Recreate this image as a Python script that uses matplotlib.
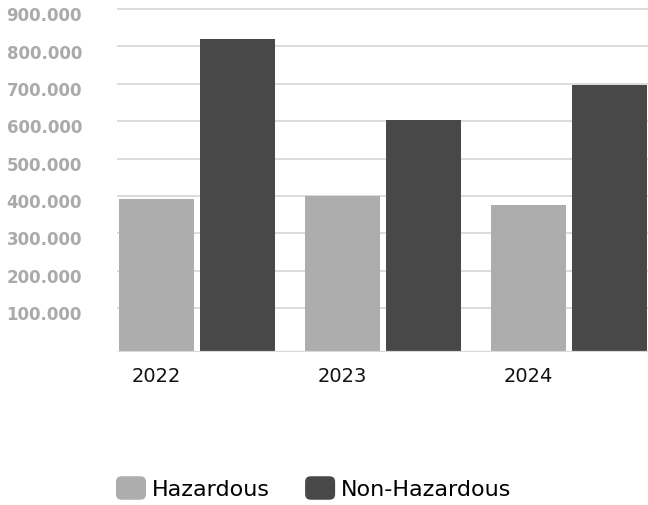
import numpy as np
import matplotlib
matplotlib.use("Agg")
import matplotlib.pyplot as plt
from matplotlib.patches import FancyBboxPatch, Patch
from matplotlib.legend_handler import HandlerPatch
import matplotlib.transforms as mtransforms

# waste volumes per year
years = ["2022", "2023", "2024"]
hazardous = [391000, 399000, 377000]
non_hazardous = [819000, 603000, 696000]
y_ticks = [100000, 200000, 300000, 400000, 500000, 600000, 700000, 800000, 900000]
y_labels = ["100.000", "200.000", "300.000", "400.000", "500.000",
            "600.000", "700.000", "800.000", "900.000"]

haz_color = "#acadac"
non_color = "#484848"
grid_color = "#d9d9d9"

plt.rcParams["font.family"] = ["DejaVu Sans"]


class RoundHandler(HandlerPatch):
    def create_artists(self, legend, orig_handle, xdescent, ydescent,
                       width, height, fontsize, trans):
        p = FancyBboxPatch((-xdescent, -ydescent), width, height,
                           boxstyle="round,pad=0,rounding_size=4",
                           facecolor=orig_handle.get_facecolor(),
                           edgecolor="none", transform=trans)
        return [p]


def main():
    fig = plt.figure(figsize=(6.48, 5.06), dpi=100)
    W, H = 648, 506
    ax = fig.add_axes([118 / W, 1 - 353 / H, (648 - 118) / W, (353 - 10) / H])

    base = -17500
    x = np.arange(len(years))
    off = 0.218
    width = 0.403
    ax.bar(x - off, np.array(hazardous) - base, bottom=base, width=width,
           color=haz_color, zorder=3)
    ax.bar(x + off, np.array(non_hazardous) - base, bottom=base, width=width,
           color=non_color, zorder=3)

    ax.set_xlim(-0.425, 2.425)
    ax.set_ylim(base, 900000)

    # horizontal grid
    for t in y_ticks:
        ax.axhline(t, color=grid_color, lw=1.3, zorder=1, clip_on=False)
    ax.axhline(base, color=grid_color, lw=1.6, zorder=4)

    for s in ax.spines.values():
        s.set_visible(False)

    ax.set_yticks(y_ticks)
    ax.set_yticklabels(y_labels, fontsize=12, fontweight="bold", color="#aaaaaa")
    ax.tick_params(axis="y", length=0, pad=26)
    shift = mtransforms.ScaledTranslation(0, -3 / 72, fig.dpi_scale_trans)
    for lbl in ax.get_yticklabels():
        lbl.set_transform(lbl.get_transform() + shift)

    ax.set_xticks(x - off)
    ax.set_xticklabels(years, fontsize=14, color="#111111")
    ax.tick_params(axis="x", length=0, pad=10)

    handles = [Patch(facecolor=haz_color, label="Hazardous"),
               Patch(facecolor=non_color, label="Non-Hazardous")]
    fig.legend(handles=handles, loc="center left",
               bbox_to_anchor=(116 / W, 1 - 489 / H), ncol=2, frameon=False,
               fontsize=16, borderpad=0, borderaxespad=0,
               handlelength=1.35, handleheight=1.25, handletextpad=0.25,
               columnspacing=1.6,
               handler_map={Patch: RoundHandler()})

    fig.savefig("out.png", dpi=100)
    plt.close(fig)


if __name__ == "__main__":
    main()
